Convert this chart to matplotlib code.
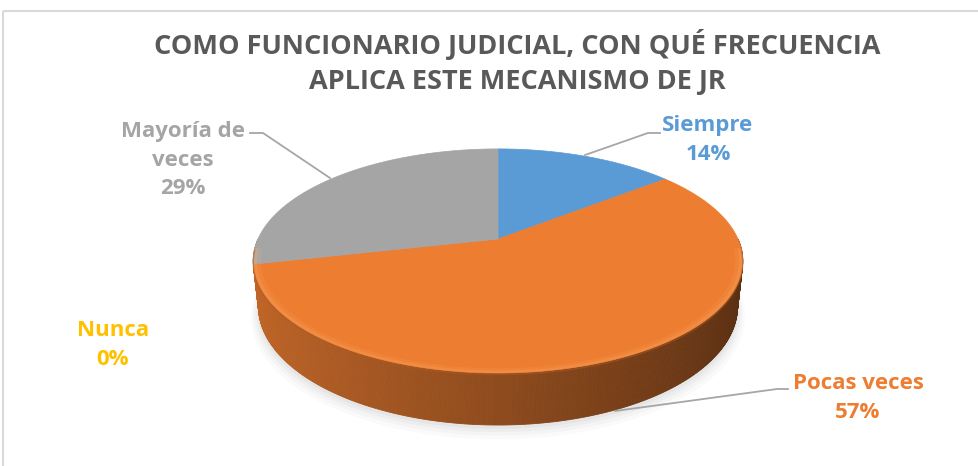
import numpy as np
import matplotlib
matplotlib.use("Agg")
import matplotlib.pyplot as plt
from matplotlib.patches import Polygon, Rectangle
from matplotlib.lines import Line2D

# ---- data ----
title = "COMO FUNCIONARIO JUDICIAL, CON QUÉ FRECUENCIA\nAPLICA ESTE MECANISMO DE JR"
categories = ["Siempre", "Pocas veces", "Nunca", "Mayoría de\nveces"]
values = [1, 4, 0, 2]
colors = ["#5B9BD5", "#ED7D31", "#FFC000", "#A5A5A5"]

FONT = ["Open Sans", "DejaVu Sans"]

W, H = 979, 466
fig = plt.figure(figsize=(W / 100, H / 100), dpi=100)
ax = fig.add_axes([0, 0, 1, 1])
ax.set_xlim(0, W)
ax.set_ylim(H, 0)
ax.axis("off")

# chart border
ax.add_patch(Rectangle((3, 11), 1000, 500, fill=False, edgecolor="#D9D9D9", lw=1.5))

# ---- perspective projection of the pie ----
cx, cy = 498, 239
f, D, se, ce, t = 1092.0, 4.55, 0.449, 0.893, 0.213


def proj(theta_deg, w=0.0, r=1.0):
    th = np.radians(theta_deg)
    u = r * np.cos(th)
    v = r * np.sin(th)
    Y = v * se + w * ce
    Z = v * ce - w * se + D
    return cx + f * u / Z, cy - f * Y / Z


vals = np.array(values, dtype=float)
frac = vals / vals.sum()
bounds = 90 - 360 * np.concatenate([[0], np.cumsum(frac)])  # clockwise from 12 o'clock


def slice_at(theta):
    th = (90 - theta) % 360  # clockwise offset from top
    acc = 0
    for i, fr in enumerate(frac):
        acc += fr * 360
        if th < acc and fr > 0:
            return i
    return len(frac) - 1


def shade(hexcol, k):
    c = np.array(matplotlib.colors.to_rgb(hexcol))
    return tuple(np.clip(c * k, 0, 1))


# soft shadow below the pie
th = np.linspace(0, 360, 300)
for rr, a, dy in [(1.03, 0.04, 9), (1.02, 0.05, 7), (1.012, 0.06, 5), (1.005, 0.08, 3)]:
    xs, ys = proj(th, -t, rr)
    ax.add_patch(Polygon(np.column_stack([xs, ys + dy]), closed=True, facecolor="#8C8C8C",
                         edgecolor="none", alpha=a, zorder=1))

# side wall (front half)
ths = np.linspace(180, 360, 361)
for a0, a1 in zip(ths[:-1], ths[1:]):
    mid = 0.5 * (a0 + a1)
    idx = slice_at(mid)
    u = np.cos(np.radians(mid))
    k = 0.60 - 0.22 * u
    x0t, y0t = proj(a0, 0)
    x1t, y1t = proj(a1, 0)
    x0b, y0b = proj(a0, -t)
    x1b, y1b = proj(a1, -t)
    ax.add_patch(Polygon([(x0t, y0t), (x1t, y1t), (x1b, y1b), (x0b, y0b)], closed=True,
                         facecolor=shade(colors[idx], k), edgecolor=shade(colors[idx], k),
                         lw=0.6, zorder=2))

# top face
for i, fr in enumerate(frac):
    if fr <= 0:
        continue
    a0, a1 = bounds[i], bounds[i + 1]
    th = np.linspace(a0, a1, 200)
    xs, ys = proj(th, 0)
    pts = np.vstack([[cx, cy], np.column_stack([xs, ys])])
    ax.add_patch(Polygon(pts, closed=True, facecolor=colors[i], edgecolor=colors[i],
                         lw=0.5, zorder=3))

# bevel rim highlight on the front edge
th = np.linspace(185, 355, 200)
for rr, a in [(0.985, 0.22), (0.97, 0.12)]:
    xo, yo = proj(th, 0, 1.0)
    xi, yi = proj(th[::-1], 0, rr)
    ax.add_patch(Polygon(np.vstack([np.column_stack([xo, yo]), np.column_stack([xi, yi])]),
                         closed=True, facecolor="#FFB070", edgecolor="none", alpha=a, zorder=4))
xs, ys = proj(th, 0, 1.0)
ax.plot(xs, ys + 1.5, color="#B35A1C", lw=1.0, alpha=0.5, zorder=4)

# ---- title ----
ax.text(517, 62, title, ha="center", va="center", fontsize=19.5, fontweight="bold",
        color="#595959", family=FONT, linespacing=1.42, zorder=6)

# ---- data labels ----
pct = [f"{round(100 * fr):.0f}%" for fr in frac]
label_pos = [(708, 140), (858, 398), (113, 345), (183, 160)]
for i, cat in enumerate(categories):
    ax.text(label_pos[i][0], label_pos[i][1], f"{cat}\n{pct[i]}", ha="center", va="center",
            fontsize=16, fontweight="bold", color=colors[i], family=FONT, linespacing=1.45, zorder=6)

# leader lines
leaders = [
    [(585, 155), (648, 133), (660, 133)],
    [(615, 411), (777, 389), (788, 389)],
    [(330, 178), (263, 133), (250, 133)],
]
for pts in leaders:
    xs, ys = zip(*pts)
    ax.add_line(Line2D(xs, ys, color="#A6A6A6", lw=1.3, zorder=5))

fig.savefig("out.png", dpi=100)
